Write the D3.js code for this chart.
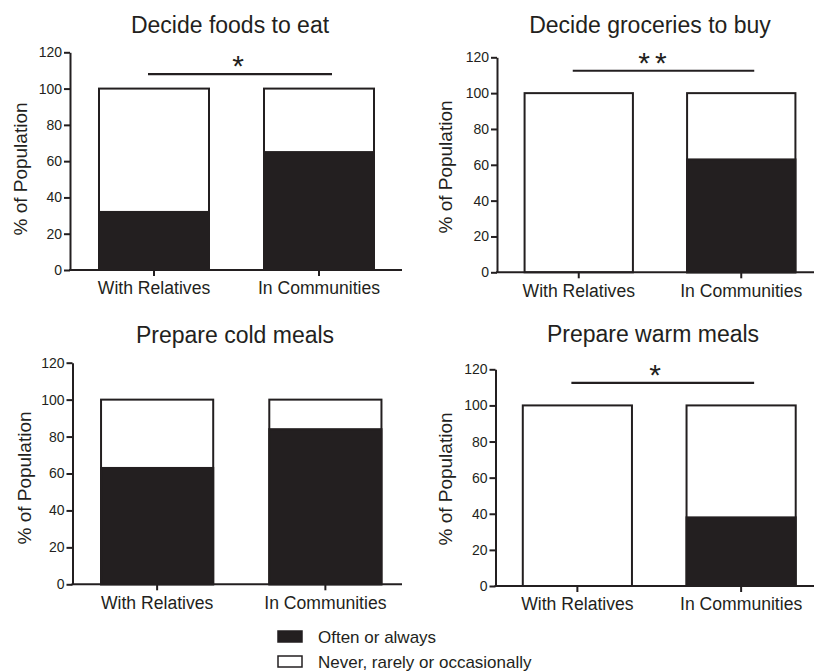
<!DOCTYPE html>
<html>
<head>
<meta charset="utf-8">
<script src="https://cdn.jsdelivr.net/npm/d3@7/dist/d3.min.js"></script>
<style>
  html, body { margin: 0; padding: 0; background: #fff; }
  svg { display: block; }
  text { font-family: "Liberation Sans", Arial, Helvetica, sans-serif; fill: #231f20; }
</style>
</head>
<body>
<svg id="chart" width="814" height="672"></svg>
<script>
// Living situation groups shown on every panel
const groups = ["With Relatives", "In Communities"];

// Panel titles (activity asked about)
const titles = [
  "Decide foods to eat",
  "Decide groceries to buy",
  "Prepare cold meals",
  "Prepare warm meals"
];

// % answering "Often or always" per group, one row per panel
const oftenValues = [
  [32, 65],
  [0, 63],
  [63, 84],
  [0, 38]
];

// Each bar totals 100 %
const totalValue = 100;

// Significance marker per panel ("" = none)
const significance = ["*", "**", "", "*"];

// Y axis ticks
const yTicks = [0, 20, 40, 60, 80, 100, 120];

// Legend entries
const legendLabels = ["Often or always", "Never, rarely or occasionally"];

const ink = "#231f20";

// Geometry of each panel on the page
const layout = [
  { axisX: 70,  axisEnd: 402, bandRange: [71.5, 401.5], y0: 270,   yTop: 52.3,  titleX: 230, titleY: 33,  labelX: 27,  labelY: 169, sigY: 108,   sigStarX: 238 },
  { axisX: 497, axisEnd: 816, bandRange: [497.5, 822.5], y0: 272.3, yTop: 57.3,  titleX: 650, titleY: 33,  labelX: 452, labelY: 167, sigY: 112.5, sigStarX: 655 },
  { axisX: 72.5, axisEnd: 402, bandRange: [73, 409.5], y0: 584.3, yTop: 362.7, titleX: 235, titleY: 343, labelX: 31, labelY: 478, sigY: null, sigStarX: 0 },
  { axisX: 495.5, axisEnd: 816, bandRange: [495.5, 823], y0: 586, yTop: 369.3, titleX: 653, titleY: 341.5, labelX: 452, labelY: 479, sigY: 112.5, sigStarX: 655 }
];

const svg = d3.select("#chart");

layout.forEach((L, i) => {
  const g = svg.append("g");

  const x = d3.scaleBand()
    .domain(groups)
    .range(L.bandRange)
    .paddingInner(1 / 3)
    .paddingOuter(1 / 6);

  const y = d3.scaleLinear()
    .domain([0, 120])
    .range([L.y0, L.yTop]);

  // Title
  g.append("text")
    .attr("x", L.titleX)
    .attr("y", L.titleY)
    .attr("text-anchor", "middle")
    .style("font-size", "23px")
    .text(titles[i]);

  // Y axis label
  g.append("text")
    .attr("transform", `translate(${L.labelX},${L.labelY}) rotate(-90)`)
    .attr("text-anchor", "middle")
    .style("font-size", "19px")
    .text("% of Population");

  // Bars: full outline (never/rarely share) with the often share filled in black
  const bars = g.append("g");
  groups.forEach((grp, j) => {
    bars.append("rect")
      .attr("x", x(grp))
      .attr("y", y(totalValue))
      .attr("width", x.bandwidth())
      .attr("height", y(0) - y(totalValue))
      .attr("fill", "#fff")
      .attr("stroke", ink)
      .attr("stroke-width", 2);
    const v = oftenValues[i][j];
    if (v > 0) {
      bars.append("rect")
        .attr("x", x(grp))
        .attr("y", y(v))
        .attr("width", x.bandwidth())
        .attr("height", y(0) - y(v))
        .attr("fill", ink)
        .attr("stroke", ink)
        .attr("stroke-width", 2);
    }
  });

  // Y axis
  const yAxis = g.append("g")
    .attr("transform", `translate(${L.axisX},0)`)
    .call(d3.axisLeft(y).tickValues(yTicks).tickSize(6).tickSizeOuter(0).tickPadding(2));
  yAxis.select(".domain").attr("stroke", ink).attr("stroke-width", 2);
  yAxis.selectAll(".tick line").attr("stroke", ink).attr("stroke-width", 2);
  yAxis.selectAll(".tick text")
    .style("font-size", "14px")
    .style("font-family", "'Liberation Sans', Arial, sans-serif")
    .attr("fill", ink);

  // X axis
  const xAxis = g.append("g")
    .attr("transform", `translate(0,${L.y0})`)
    .call(d3.axisBottom(x).tickSize(6).tickSizeOuter(0).tickPadding(6));
  xAxis.select(".domain").remove();
  xAxis.selectAll(".tick line").attr("stroke", ink).attr("stroke-width", 2);
  xAxis.selectAll(".tick text")
    .style("font-size", "17.6px")
    .style("font-family", "'Liberation Sans', Arial, sans-serif")
    .attr("fill", ink);
  xAxis.append("line")
    .attr("x1", L.axisX - 1)
    .attr("x2", L.axisEnd)
    .attr("y1", 0)
    .attr("y2", 0)
    .attr("stroke", ink)
    .attr("stroke-width", 2);

  // Significance bracket
  if (significance[i]) {
    const c1 = x(groups[0]) + x.bandwidth() / 2;
    const c2 = x(groups[1]) + x.bandwidth() / 2;
    const ly = y(L.sigY);
    g.append("line")
      .attr("x1", c1 - 6)
      .attr("x2", c2 + 13)
      .attr("y1", ly)
      .attr("y2", ly)
      .attr("stroke", ink)
      .attr("stroke-width", 2.2);
    g.append("text")
      .attr("x", L.sigStarX)
      .attr("y", ly + 2)
      .attr("text-anchor", "middle")
      .style("font-size", "30px")
      .style("letter-spacing", significance[i].length > 1 ? "5px" : "0px")
      .text(significance[i]);
  }
});

// Legend
const legend = svg.append("g");
legendLabels.forEach((lab, k) => {
  const ly = 631 + k * 25;
  legend.append("rect")
    .attr("x", 278)
    .attr("y", ly)
    .attr("width", 24)
    .attr("height", 11)
    .attr("fill", k === 0 ? ink : "#fff")
    .attr("stroke", ink)
    .attr("stroke-width", 1.5);
  legend.append("text")
    .attr("x", 318)
    .attr("y", ly + 11.5)
    .style("font-size", "17px")
    .text(lab);
});
</script>
</body>
</html>
